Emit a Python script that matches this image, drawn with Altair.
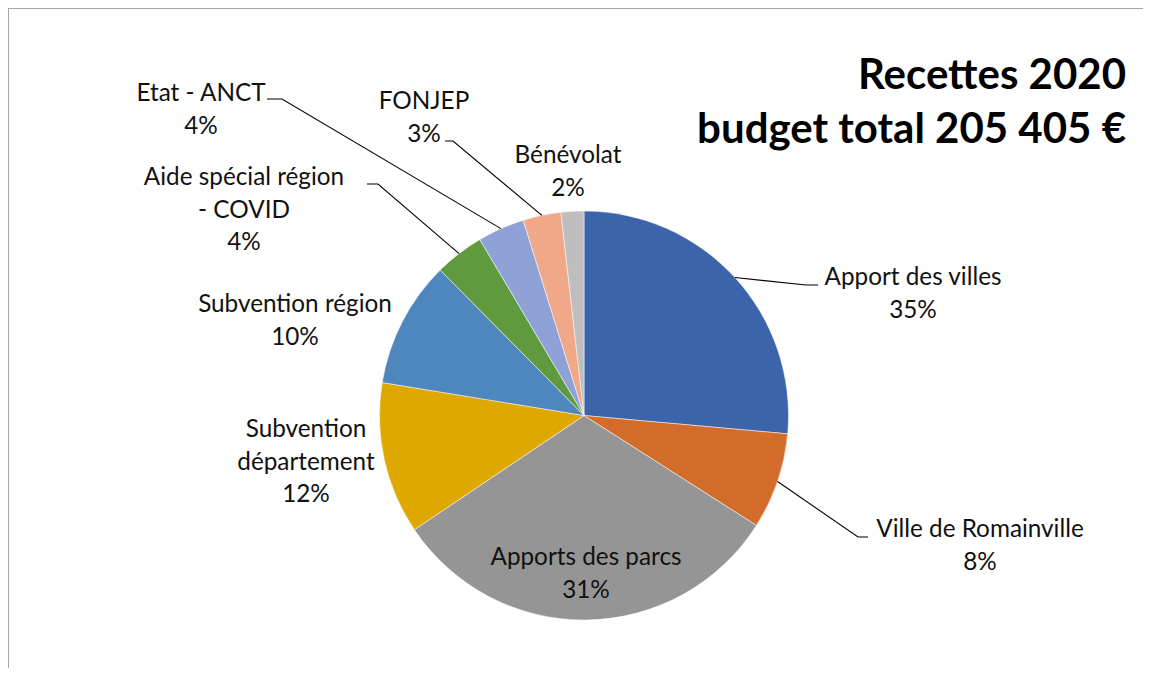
import math
import altair as alt
import pandas as pd

# ---- data ----
categories = ["Apport des villes", "Ville de Romainville", "Apports des parcs",
              "Subvention département", "Subvention région",
              "Aide spécial région - COVID", "Etat - ANCT", "FONJEP", "Bénévolat"]
shares = [26.4, 7.6, 31.5, 12.0, 10.0, 3.9, 3.7, 3.0, 1.8]       # drawn slice sizes
label_lines = [["Apport des villes", "35%"], ["Ville de Romainville", "8%"],
               ["Apports des parcs", "31%"], ["Subvention", "département", "12%"],
               ["Subvention région", "10%"], ["Aide spécial région", "- COVID", "4%"],
               ["Etat - ANCT", "4%"], ["FONJEP", "3%"], ["Bénévolat", "2%"]]
colors = ["#3C64AB", "#D36C2B", "#959595", "#DFA800", "#4E87BE",
          "#5F9B3E", "#8EA2D7", "#F0A889", "#BEBEBE"]
title_lines = ["Recettes 2020", "budget total 205 405 €"]

# ---- layout (chart pixel coordinates, origin top-left of plot) ----
W, H = 1135, 660
CX, CY, R = 576, 407.5, 204.5
label_anchor = {  # first-line baseline, centred
    "Apport des villes": (905, 277), "Ville de Romainville": (972, 529),
    "Apports des parcs": (578, 557), "Subvention département": (298, 429),
    "Subvention région": (287, 304), "Aide spécial région - COVID": (236, 177),
    "Etat - ANCT": (193, 93), "FONJEP": (416, 101), "Bénévolat": (560, 155),
}
leader_tail = {  # elbow and end of the leader line
    "Apport des villes": [(798, 277), (810, 277)],
    "Ville de Romainville": [(850, 529), (860, 529)],
    "Aide spécial région - COVID": [(370, 176), (359, 176)],
    "Etat - ANCT": [(274, 91), (259, 91)],
    "FONJEP": [(445, 133), (437, 133)],
}

total = sum(shares)
pie_df = pd.DataFrame({"cat": categories, "value": shares, "order": range(len(categories))})

# label table
lab_rows, line_rows = [], []
cum = 0.0
for i, (c, v) in enumerate(zip(categories, shares)):
    mid = (cum + v / 2) / total * 2 * math.pi
    cum += v
    ax, ay = label_anchor[c]
    lab_rows.append({"cat": c, "x": ax, "y": ay, "text": "\n".join(label_lines[i])})
    if c in leader_tail:
        pts = [(CX + R * math.sin(mid), CY - R * math.cos(mid))] + leader_tail[c]
        for k, (px, py) in enumerate(pts):
            line_rows.append({"cat": c, "k": k, "x": px, "y": py})
lab_df = pd.DataFrame(lab_rows)
line_df = pd.DataFrame(line_rows)
title_df = pd.DataFrame({"x": [W - 17], "y": [81], "text": ["\n".join(title_lines)]})

xs = alt.Scale(domain=[0, W], nice=False, zero=False)
ys = alt.Scale(domain=[0, H], nice=False, zero=False, reverse=True)
FONT = "Lato"

pie = alt.Chart(pie_df).mark_arc(outerRadius=R, stroke="white", strokeWidth=0.5).encode(
    theta=alt.Theta("value:Q", stack=True, scale=alt.Scale(range=[0, 2 * math.pi])),
    order=alt.Order("order:Q"),
    color=alt.Color("cat:N", scale=alt.Scale(domain=categories, range=colors), legend=None),
    x=alt.value(CX), y=alt.value(CY),
)

leaders = alt.Chart(line_df).mark_line(color="#000000", strokeWidth=1.1).encode(
    x=alt.X("x:Q", scale=xs, axis=None),
    y=alt.Y("y:Q", scale=ys, axis=None),
    detail="cat:N", order="k:Q",
)

labels = alt.Chart(lab_df).mark_text(
    font=FONT, fontSize=24.3, color="#111111", align="center", baseline="alphabetic",
    lineBreak="\n", lineHeight=32.5,
).encode(
    x=alt.X("x:Q", scale=xs, axis=None),
    y=alt.Y("y:Q", scale=ys, axis=None),
    text="text:N",
)

title = alt.Chart(title_df).mark_text(
    font=FONT, fontSize=42, fontWeight="bold", color="#000000", align="right",
    baseline="alphabetic", lineBreak="\n", lineHeight=54,
).encode(
    x=alt.X("x:Q", scale=xs, axis=None),
    y=alt.Y("y:Q", scale=ys, axis=None),
    text="text:N",
)

frame = alt.Chart(pd.DataFrame({"k": [0]})).mark_rule(color="#A6A6A6", strokeWidth=2).encode(
    x=alt.value(0), x2=alt.value(W), y=alt.value(0),
) + alt.Chart(pd.DataFrame({"k": [0]})).mark_rule(color="#A6A6A6", strokeWidth=2).encode(
    x=alt.value(0), y=alt.value(0), y2=alt.value(H),
)

chart = alt.layer(frame, pie, leaders, labels, title).properties(
    width=W, height=H, padding=0,
    autosize=alt.AutoSizeParams(type="none"),
).configure_view(stroke=None).configure(background="white")

chart.save("out.html", embed_options={"renderer": "svg", "actions": False})
